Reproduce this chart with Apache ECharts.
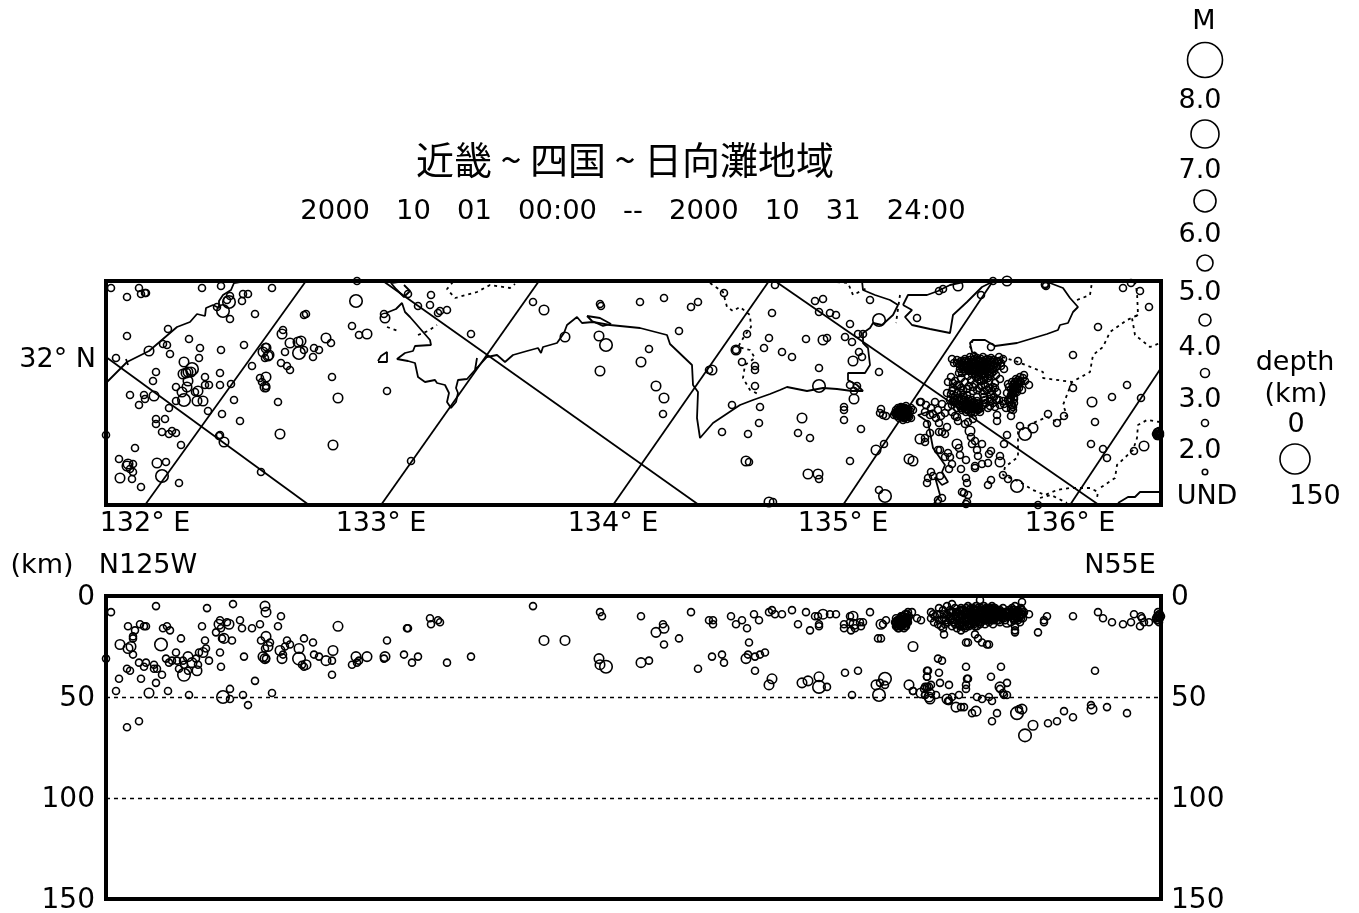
<!DOCTYPE html>
<html><head><meta charset="utf-8">
<script src="https://cdn.jsdelivr.net/npm/echarts@6/dist/echarts.min.js"></script>
<style>html,body{margin:0;background:#fff}#c{width:1359px;height:913px}</style></head>
<body><div id="c"></div>
<script>
const titleText = '近畿 ~ 四国 ~ 日向灘地域';
const periodText = '2000   10   01   00:00   --   2000   10   31   24:00';
const lonTickPositions = [39, 275, 507, 737, 964];
const lonTickLabels = ['132° E', '133° E', '134° E', '135° E', '136° E'];
const latTickPositions = [76];
const latTickLabels = ['32° N'];
const depthTicks = [0, 50, 100, 150];
const magnitudeLabels = ['8.0', '7.0', '6.0', '5.0', '4.0', '3.0', '2.0', 'UND'];

const meridians = [[[39,224],[200,0]],[[275,224],[433,0]],[[507,224],[663,0]],[[737,224],[887,0]],[[964,224],[1055,87]]];
const parallels = [[[0,76],[203,224]],[[277,0],[593,224]],[[669,0],[993,224]]];

const coastKyushu = [[1,101],[21,81],[43,70],[71,46],[84,41],[91,33],[99,35],[100,27],[107,24],[113,27],[113,20],[117,14],[125,9],[128,2],[134,1],[147,1],[157,0]];
const coastKyushuTick = [[20,78],[22,84]];
const coastIsland = [[272,80],[275,75],[281,71],[281,81],[272,81]];
const coastSadaIslands = [[280,32],[290,28],[296,22],[299,31],[304,36],[311,44],[324,59],[325,64],[309,65],[307,70],[299,72],[291,78],[302,80],[309,82],[312,96],[319,101],[329,99],[331,102],[339,104],[343,112],[341,121],[345,127],[350,121],[352,112],[350,107],[352,99],[361,98],[369,89],[371,77],[369,89],[381,76],[391,74],[399,81],[407,74],[421,70],[432,67],[435,72],[437,66],[451,62],[458,52],[461,44],[471,36],[476,42],[487,41],[504,44],[534,47],[561,54],[564,63],[586,84],[587,104],[592,111],[591,137],[594,157],[607,142],[634,124],[647,119],[664,113],[674,109],[681,106],[701,110],[717,107],[731,108],[746,110],[757,110],[751,104],[742,99],[742,92],[759,92],[764,84],[762,67],[757,62],[757,52],[764,47],[767,42],[776,44],[787,34],[792,24],[784,19],[769,14],[757,9],[756,0]];
const coastNorthIsle = [[298,4],[304,10],[298,16],[290,8],[285,2],[292,1]];
const coastSetoIsle = [[481,35],[494,37],[505,43],[497,45],[486,40],[481,35]];
const coastAwaji = [[797,24],[806,29],[799,36],[806,44],[824,48],[844,52],[847,34],[861,21],[876,6],[886,1]];
const coastAwajiNorth = [[797,24],[802,14],[821,14],[832,10],[844,4],[862,0]];
const coastKii = [[871,74],[866,71],[864,62],[867,59],[879,59],[889,65],[911,62],[941,53],[952,49],[954,44],[962,42],[967,31],[972,26],[964,17],[957,7],[944,2],[934,0]];
const coastIse = [[827,129],[812,134],[822,141],[827,167],[839,184],[836,191],[842,201],[836,204],[829,196],[834,214],[827,224]];
const coastEast = [[1012,222],[1022,216],[1029,216],[1034,211],[1054,211]];
const coastlines = [coastKyushu, coastKyushuTick, coastIsland, coastSadaIslands, coastNorthIsle, coastSetoIsle, coastAwaji, coastAwajiNorth, coastKii, coastIse, coastEast];

const border1 = [[347,1],[341,8],[349,17],[371,11],[384,4],[404,7],[409,3]];
const border2 = [[604,2],[617,11],[621,26],[627,30],[634,26],[644,34],[645,46],[639,54],[632,66],[644,69],[649,77],[639,84],[637,97],[644,109],[652,113]];
const border3 = [[281,46],[292,50]];
const border4 = [[312,54],[322,50],[331,44]];
const border5 = [[731,1],[742,2],[747,14],[761,7]];
const border6 = [[794,14],[790,42]];
const border7 = [[971,19],[984,14],[986,1]];
const border8 = [[896,76],[912,81],[937,91],[937,97],[966,101],[984,91],[987,74],[997,66],[1004,51],[1021,39],[1032,34],[1031,11],[1029,1]];
const border9 = [[1032,34],[1026,37],[1029,54],[1044,66],[1054,62]];
const border10 = [[966,101],[957,124],[961,134],[951,141],[941,136],[927,142],[912,151],[912,167],[912,176],[899,186],[897,194],[914,201],[927,209],[939,214],[951,209],[964,207],[984,207],[992,211],[991,217]];
const border11 = [[1054,141],[1041,139],[1032,144],[1031,157],[1027,169],[1011,184],[1009,197],[994,207]];
const border12 = [[934,217],[945,214],[961,222]];
const border13 = [[867,59],[864,66],[871,74]];
const borders = [border1, border2, border3, border4, border5, border6, border7, border8, border9, border10, border11, border12, border13];

const mapSmall = [[5,7],[33,7],[21,16],[35,13],[39,12],[40,12],[96,7],[115,5],[124,15],[137,13],[142,13],[136,20],[121,19],[166,7],[251,0],[149,33],[124,38],[62,48],[21,55],[83,58],[57,63],[61,64],[94,67],[64,73],[93,77],[115,69],[138,64],[10,77],[50,91],[47,100],[114,92],[114,104],[99,96],[99,104],[103,104],[125,103],[70,106],[89,111],[24,114],[38,114],[39,118],[33,124],[70,120],[63,127],[102,130],[128,119],[116,133],[134,140],[50,138],[59,138],[50,143],[56,151],[63,153],[66,150],[70,152],[75,164],[29,167],[13,178],[60,181],[27,183],[24,188],[27,191],[26,198],[35,206],[73,202],[155,191],[305,180],[0,154],[114,154],[113,155],[177,49],[146,85],[160,66],[159,77],[179,71],[175,82],[181,85],[184,89],[208,67],[213,69],[207,76],[198,69],[225,62],[246,45],[253,54],[226,96],[281,110],[172,121],[154,97],[156,101],[160,105],[160,107],[198,34],[200,33],[278,33],[325,14],[324,24],[312,25],[302,13],[332,32],[334,30],[341,29],[111,26],
[365,53],[427,21],[494,23],[495,25],[534,21],[558,17],[585,26],[592,21],[618,12],[573,50],[543,68],[557,133],[626,124],[616,151],[630,69],
[666,32],[669,4],[709,20],[717,18],[713,31],[724,32],[730,34],[744,43],[764,19],[811,37],[752,53],[757,53],[739,56],[746,61],[700,58],[721,57],[663,57],[641,53],[658,67],[676,71],[686,76],[753,71],[756,76],[773,91],[713,87],[636,81],[649,85],[649,89],[603,89],[649,105],[744,104],[751,105],[748,110],[654,126],[738,126],[738,129],[775,128],[774,132],[777,134],[780,135],[738,139],[653,142],[755,148],[642,153],[692,152],[704,157],[778,163],[744,180],[643,181],[713,198],[773,209],[667,221],[815,121],[807,129],[805,137],
[789,132],[790,129],[791,135],[792,127],[793,131],[793,137],[794,134],[795,128],[795,126],[796,131],[796,136],[797,129],[797,139],[798,133],[798,127],[799,136],[800,130],[800,125],[801,134],[801,138],[802,128],[802,132],[803,136],[804,130],[805,127],[788,134],[794,130],[799,133],
[790,133],[791,131],[792,133],[792,130],[793,129],[793,134],[794,132],[794,127],[795,131],[795,136],[796,133],[796,128],[797,135],[797,131],[798,129],[798,137],[799,131],[799,127],[800,134],[800,128],[800,136],[801,131],[802,130],[802,135],
[833,10],[837,8],[875,14],[887,0],[939,3],[939,4],[940,5],[1017,7],[1025,2],[1034,10],[1043,26],[992,46],[967,74],[885,66],[912,80],[923,104],[967,107],[1021,104],[1006,116],[1035,117],[989,141],[958,135],[951,142],[942,133],[914,145],[901,154],[898,163],[985,163],[997,168],[1001,177],[1028,170],[897,194],[902,198],[891,134],[891,140],[932,224],
[1051,151],[1052,153],[1053,155],[1054,152],[1051,155],[1053,150],[1052,151],[1053,153],[1052,155],[1054,154],[1051,153],[1050,153],
[821,143],[824,152],[819,157],[819,161],[833,151],[836,151],[839,153],[841,146],[832,169],[834,169],[839,176],[842,172],[844,176],[846,183],[843,188],[853,167],[854,174],[860,179],[855,188],[865,156],[869,160],[866,163],[871,169],[876,163],[872,175],[885,170],[883,173],[894,175],[882,182],[876,183],[869,185],[869,187],[860,197],[861,202],[882,204],[885,199],[825,191],[822,197],[821,202],[827,195],[834,195],[836,217],[832,219],[856,211],[858,212],[862,214],[861,221],[860,223],[851,136],[852,140],[859,143],[862,141],[867,138],[830,137],[833,142],
[846,78],[848,82],[851,79],[853,83],[855,80],[857,84],[859,78],[860,87],[862,81],[863,90],[864,76],[865,84],[866,93],[867,79],[868,88],[869,82],[870,96],[871,77],[872,85],[873,91],[874,80],[875,87],[876,94],[877,76],[878,83],[879,90],[880,79],[881,86],[882,97],[883,81],[884,88],[885,77],[886,92],[887,84],[888,79],[890,86],[892,81],[893,76],[895,85],[897,78],[898,88],[868,75],[859,90],[862,95],[856,92],[854,88],[873,99],[878,99],[884,95],[890,94],
[842,101],[845,96],[847,107],[849,100],[851,112],[853,104],[855,97],[857,109],[859,101],[861,114],[863,105],[865,99],[867,110],[869,103],[871,116],[873,107],[875,100],[877,113],[879,104],[881,109],[883,100],[885,114],[887,106],[889,102],[891,111],[894,98],[841,112],[845,113],[849,115],[853,92],[857,114],
[844,119],[846,124],[848,117],[850,122],[851,127],[853,119],[854,125],[856,129],[857,121],[858,116],[859,126],[860,131],[861,122],[862,118],[863,127],[864,124],[865,132],[866,119],[867,128],[868,122],[869,131],[870,126],[871,120],[872,129],[873,125],[874,131],
[877,124],[879,119],[882,127],[884,120],[887,122],[889,126],[891,119],[894,124],[897,120],[900,127],[902,119],[905,124],[907,129],[905,135],[908,118],
[901,112],[903,106],[905,114],[906,101],[907,109],[908,116],[909,105],[910,98],[911,111],[912,103],[913,107],[914,96],[915,101],[916,109],[917,97],[918,94],[919,100],[904,117],[908,122],[902,103],
[814,121],[820,124],[825,127],[829,121],[832,129],[836,123],[839,132],[842,126],[846,131],[849,135],[819,131],[824,134],[827,133],[835,135]];
const mapDenseFill = [[856,82],[858,86],[860,80],[861,84],[863,79],[864,87],[865,81],[866,85],[867,89],[868,78],[869,86],[870,80],[870,91],[871,83],[871,88],[872,79],[873,84],[873,94],[874,88],[875,78],[875,82],[876,85],[876,90],[877,80],[878,87],[878,93],[879,81],[880,84],[880,89],[881,78],[881,92],[882,83],[883,87],[884,79],[884,91],[885,84],[886,81],[887,88],[858,80],[862,85],[866,90],[869,93],[872,96],[867,83],[874,84],[877,89],[879,96],[862,88],[857,88],[854,84],[851,82],[889,82],[891,85],[893,80],[888,90],[895,82],
[848,121],[852,123],[855,120],[855,127],[857,124],[858,119],[859,123],[860,128],[861,125],[862,121],[862,129],[863,123],[864,120],[864,128],[865,125],[866,122],[866,130],[867,125],[868,127],[869,124],[869,128],[870,122],[871,128],[872,123],[873,128],[875,127],[856,118],[852,117],[849,119],[847,120],
[861,108],[867,106],[871,109],[875,105],[878,110],[883,107],[886,110],[889,107],[851,104],[846,110],[855,107],[847,102],[878,116],[884,118],
[905,108],[906,111],[907,104],[908,107],[909,111],[909,101],[910,105],[911,108],[911,101],[912,99],[913,103],[914,100],[907,113],[905,118],[906,124],[904,121],[907,126],[905,128],
[888,116],[893,119],[898,123],[880,122],[884,125],[855,112]];
const mapMedium = [[43,70],[78,81],[82,91],[85,91],[80,92],[77,93],[82,100],[81,106],[76,111],[92,110],[91,120],[97,120],[48,115],[51,182],[22,183],[21,185],[14,197],[118,161],[174,153],[227,164],[232,117],[176,53],[160,67],[157,71],[163,74],[162,75],[184,62],[192,61],[195,60],[220,57],[261,53],[160,96],[159,106],[279,37],[438,29],[459,56],[493,55],[535,81],[494,90],[550,105],[558,117],[630,69],[717,59],[747,80],[606,89],[748,118],[696,137],[770,169],[640,180],[702,193],[712,193],[663,221],[803,178],[807,180],[852,5],[901,0],[986,121],[927,147],[1038,165],[814,158],[851,163],[864,150],[894,181]];
const mapLarge = [[117,30],[123,21],[250,20],[78,119],[86,88],[56,195],[193,72],[500,64],[773,39],[713,105],[779,215],[919,153],[911,205]];

const depthSmall = [[5,8],[50,5],[101,6],[127,4],[175,10],[22,15],[34,14],[38,15],[40,15],[57,16],[61,15],[64,17],[29,17],[27,20],[27,21],[96,15],[114,12],[115,16],[121,13],[134,12],[136,16],[146,16],[154,14],[172,15],[110,18],[75,21],[99,22],[126,22],[116,21],[155,22],[164,23],[181,22],[184,24],[198,21],[207,23],[281,22],[27,29],[0,31],[33,33],[40,33],[38,35],[48,34],[48,36],[51,36],[60,31],[63,33],[66,32],[70,28],[71,32],[77,32],[73,36],[82,37],[78,34],[92,34],[90,31],[93,28],[100,26],[103,32],[114,28],[115,35],[138,30],[159,26],[160,31],[177,29],[179,25],[196,34],[198,35],[208,29],[213,30],[226,32],[226,39],[246,34],[251,33],[253,32],[278,31],[21,36],[24,37],[13,41],[35,41],[50,43],[56,39],[149,42],[10,47],[62,47],[83,49],[124,46],[124,51],[137,49],[142,54],[166,48],[21,65],[33,62],
[301,16],[302,16],[324,11],[325,14],[332,12],[334,13],[427,5],[494,8],[496,10],[535,10],[557,14],[585,8],[573,21],[558,24],[298,29],[312,30],[306,33],[341,33],[365,30],[543,32],[592,36],
[603,12],[607,12],[607,14],[625,10],[636,12],[630,14],[641,16],[648,9],[653,12],[663,8],[666,7],[669,9],[676,9],[686,7],[700,8],[709,10],[712,10],[724,9],[730,9],[692,14],[704,17],[713,14],[713,15],[744,10],[764,8],[738,14],[738,16],[744,13],[745,17],[749,16],[754,13],[757,13],[755,15],[780,12],[777,14],[643,23],[772,21],[775,21],[616,29],[606,30],[618,33],[642,29],[649,30],[654,29],[659,28],[649,37],[721,45],[739,38],[752,37],[746,49],[774,43],[779,44],[807,47],[821,37],[821,40],[819,45],[823,45],[819,49],
[789,13],[790,15],[790,11],[791,14],[792,12],[792,16],[793,14],[794,11],[794,15],[795,13],[795,10],[796,15],[796,12],[797,14],[797,10],[798,12],[798,16],[799,9],[799,13],[800,11],[800,15],[801,9],[801,13],[802,11],[803,10],[791,15],[802,8],[806,8],[811,11],[815,12],
[790,13],[791,12],[792,14],[793,12],[793,16],[794,13],[795,15],[795,11],[796,13],[796,10],[797,12],[798,14],[798,10],[799,11],[799,15],[800,13],[801,11],[802,13],
[825,8],[825,11],[828,13],[833,6],[841,5],[846,4],[874,2],[916,3],[923,9],[837,16],[838,19],[855,17],[869,15],[869,19],[872,21],[876,23],[881,24],[883,24],[860,23],[862,23],[887,14],[909,15],[909,17],[909,18],[941,10],[938,12],[938,13],[932,18],[967,10],[992,8],[997,11],[1006,13],[1017,14],[1025,13],[1028,9],[1035,10],[1036,11],[1038,13],[1043,13],[1034,15],
[1051,10],[1052,12],[1053,9],[1054,11],[1052,8],[1053,13],[1052,10],[1053,11],[1054,9],[1051,12],[1055,10],[1050,11],
[832,31],[836,32],[860,35],[895,35],[822,37],[821,40],[833,38],[861,41],[862,41],[885,40],[989,37],[834,43],[843,44],[807,47],[818,46],[821,45],[825,44],[819,49],[825,48],[830,49],[860,44],[860,46],[853,49],[871,50],[876,51],[883,50],[886,52],[901,43],[894,46],[897,48],[898,49],[901,49],[842,52],[846,50],[843,52],[855,55],[858,55],[866,58],[891,58],[886,62],[913,56],[942,63],[951,62],[958,57],[967,60],[985,54],[1001,55],[1021,58],
[831,9],[833,12],[835,15],[837,7],[838,11],[839,14],[841,9],[842,13],[844,7],[845,11],[846,15],[847,8],[848,13],[849,6],[850,10],[851,16],[852,8],[853,12],[854,15],[855,6],[856,10],[857,13],[858,7],[859,16],[860,9],[861,12],[862,5],[863,15],[864,8],[865,11],[866,14],[867,6],[868,9],[869,12],[870,5],[871,15],[872,8],[873,11],[874,14],[875,6],[876,9],[877,12],[878,5],[879,14],[880,8],[881,11],[882,6],[883,13],[884,9],[885,12],[886,5],[887,8],[888,11],[889,6],[890,9],[891,12],[892,7],[893,10],[894,13],[895,8],[896,11],[897,6],[898,9],[899,12],[900,8],[901,10],[903,7],[904,10],[905,13],[906,6],[907,9],[908,12],[909,5],[910,8],[911,11],[912,7],[913,10],[914,13],[915,6],[916,9],[917,11],[918,8]];
const depthDenseFill = [[843,10],[845,8],[846,12],[848,10],[849,14],[850,8],[851,12],[852,10],[853,14],[854,7],[854,11],[855,9],[855,13],[856,7],[856,15],[857,10],[858,12],[858,15],[859,8],[859,11],[860,13],[860,6],[861,9],[861,15],[862,11],[862,14],[863,7],[863,12],[864,10],[864,14],[865,6],[865,9],[866,12],[866,8],[867,10],[867,13],[868,7],[868,14],[869,9],[869,7],[870,11],[870,13],[871,7],[871,10],[872,12],[872,6],[873,9],[873,13],[874,7],[874,11],[875,9],[875,13],[876,11],[876,7],[877,8],[877,10],[878,12],[878,7],[879,9],[879,11],[880,6],[880,12],[881,9],[881,7],[882,10],[882,12],[883,8],[883,10],[884,6],[884,11],[885,8],[885,10],[886,7],[886,11],[887,10],[887,6],[888,8],[888,12],[889,9],[889,7],[890,11],[890,7],[891,8],[891,10],[892,9],[893,8],[893,12],[894,9],[894,7],[895,10],[896,8],[897,9],[898,11],[899,8],[900,10],[902,8],[903,10],[904,8],[905,9],[906,10],[906,8],[907,11],[907,7],[908,9],[908,7],[909,10],[909,12],[910,10],[911,8],[912,9],[912,12],[913,8],[914,10],[915,9],[915,11],[916,7],[917,9],[840,12],[838,9],[836,12],[834,9],[829,10],[832,14],[827,9]];
const depthMedium = [[159,5],[160,8],[113,14],[123,14],[118,21],[160,20],[162,25],[232,15],[14,24],[22,26],[25,25],[82,30],[86,33],[91,37],[97,28],[157,30],[159,31],[174,27],[176,31],[193,26],[200,34],[220,32],[227,27],[250,30],[261,30],[279,30],[43,48],
[438,22],[459,22],[558,16],[550,18],[493,31],[494,34],[535,33],
[717,9],[747,10],[748,14],[775,14],[807,25],[640,31],[666,41],[663,44],[696,43],[702,42],[713,40],[770,44],[803,44],[815,48],[823,50],[901,13],[824,51],[841,51],[850,55],[870,57],[894,45],[916,56],[927,64],[986,56]];
const depthLarge = [[55,24],[78,39],[193,31],[117,50],[500,35],[713,45],[779,41],[773,49],[911,58],[919,69]];

function polyline(points, type) {
  return { type:'line', xAxisIndex:0, yAxisIndex:0, data:points, showSymbol:false, symbol:'none', silent:true, animation:false,
    lineStyle:{color:'#000', width:1.8, type:type}, z:2 };
}
function circles(points, size, section) {
  return { type:'scatter', xAxisIndex:section?1:0, yAxisIndex:section?1:0, data:points, symbol:'circle', symbolSize:size, clip:false, silent:true, animation:false,
    itemStyle:{color:'transparent', borderColor:'#000', borderWidth:1.6, opacity:1}, z:3 };
}
const FONT = '"DejaVu Sans", sans-serif';
const labelStyle = {color:'#000', fontFamily:FONT, fontSize:27};
const chart = echarts.init(document.getElementById('c'), null, {renderer:'canvas'});

const legendGraphics = [];
function legendText(t, x, y, size) { legendGraphics.push({type:'text', x, y, style:{text:t, fill:'#000', font:`${size||27}px ${FONT}`, textAlign:'center', textVerticalAlign:'middle'}}); }
function legendCircle(x, y, d) { legendGraphics.push({type:'circle', shape:{cx:x, cy:y, r:d/2}, style:{fill:'none', stroke:'#000', lineWidth:1.6}}); }
const legendY = [101,171,235,293,348,400,451,497];
const legendCircleY = [60,134,201,263,320,373,423,472];
const legendCircleD = [35,28,22,16,12,9,7,5.5];
legendText('M', 1204, 22);
magnitudeLabels.forEach((t,i)=>{ legendText(t, i===7?1207:1200, legendY[i]); legendCircle(1205, legendCircleY[i], legendCircleD[i]); });
legendText('depth', 1295, 363);
legendText('(km)', 1296, 395);
legendText('0', 1296, 425);
legendCircle(1295, 459, 30);
legendText('150', 1315, 497);
legendText('(km)', 42, 566);
legendText('N125W', 148, 566);
legendText('N55E', 1120, 566);

chart.setOption({
  animation:false,
  backgroundColor:'#fff',
  title:[
    {text:titleText, left:620, top:136, textAlign:'center', textStyle:{fontFamily:'"Noto Sans CJK JP", sans-serif', fontSize:38, fontWeight:'normal', color:'#000'}},
    {text:periodText, left:628, top:193, textAlign:'center', textStyle:{fontFamily:FONT, fontSize:27.4, fontWeight:'normal', color:'#000'}}
  ],
  grid:[
    {left:106, top:281, width:1055, height:224, outerBoundsMode:'none', show:true, borderColor:'#000', borderWidth:4, backgroundColor:'transparent'},
    {left:106, top:596, width:1055, height:303, outerBoundsMode:'none', show:true, borderColor:'#000', borderWidth:4, backgroundColor:'transparent'}
  ],
  xAxis:[
    {type:'value', gridIndex:0, min:0, max:1055, splitLine:{show:false}, axisLine:{show:false}, axisTick:{show:false},
     axisLabel:{...labelStyle, show:true, margin:5, customValues:lonTickPositions, formatter:(v)=>lonTickLabels[lonTickPositions.indexOf(v)]||''}},
    {type:'value', gridIndex:1, min:0, max:1055, show:false, splitLine:{show:false}}
  ],
  yAxis:[
    {type:'value', gridIndex:0, min:0, max:224, inverse:true, splitLine:{show:false}, axisLine:{show:false}, axisTick:{show:false},
     axisLabel:{...labelStyle, show:true, margin:10, verticalAlign:'top', lineHeight:6, customValues:latTickPositions, formatter:(v)=>latTickLabels[latTickPositions.indexOf(v)]||''}},
    {type:'value', gridIndex:1, min:0, max:150, interval:50, inverse:true, position:'left', axisLine:{show:false}, axisTick:{show:false},
     axisLabel:{...labelStyle, fontSize:28, margin:11, verticalAlign:'top', lineHeight:4}, splitLine:{show:true, lineStyle:{color:'#000', width:1.3, type:[4,4]}}},
    {type:'value', gridIndex:1, min:0, max:150, interval:50, inverse:true, position:'right', axisLine:{show:false}, axisTick:{show:false},
     axisLabel:{...labelStyle, fontSize:28, margin:10, verticalAlign:'top', lineHeight:4}, splitLine:{show:false}}
  ],
  series:[
    ...meridians.map(p=>polyline(p,'solid')),
    ...parallels.map(p=>polyline(p,'solid')),
    ...coastlines.map(p=>polyline(p,'solid')),
    ...borders.map(p=>polyline(p,[3,4])),
    circles(mapSmall,7,false), circles(mapDenseFill,7,false), circles(mapMedium,9.5,false), circles(mapLarge,12.5,false),
    circles(depthSmall,7,true), circles(depthDenseFill,7,true), circles(depthMedium,9.5,true), circles(depthLarge,12.5,true)
  ],
  graphic:legendGraphics
});
</script></body></html>
